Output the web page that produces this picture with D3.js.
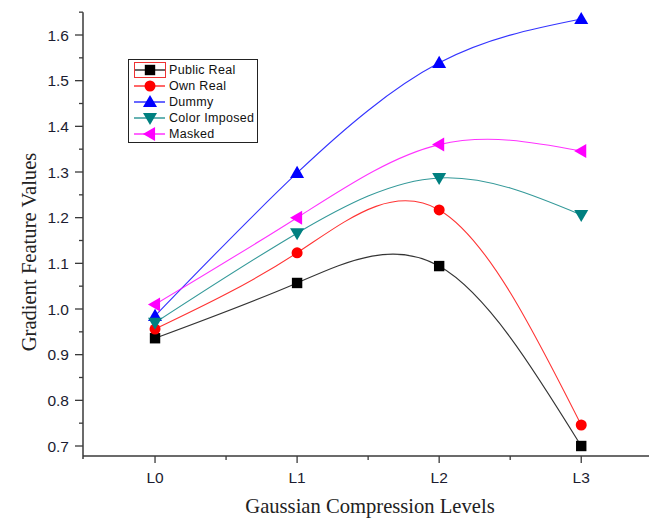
<!DOCTYPE html>
<html>
<head>
<meta charset="utf-8">
<script src="https://cdn.jsdelivr.net/npm/d3@7"></script>
<style>
  body { margin: 0; background: #fff; }
  svg { display: block; }
</style>
</head>
<body>
<svg width="651" height="519"></svg>
<script>
const levels = ['L0', 'L1', 'L2', 'L3']
const publicReal = [0.936, 1.057, 1.094, 0.700]
const ownReal = [0.956, 1.123, 1.217, 0.746]
const dummy = [0.985, 1.298, 1.539, 1.635]
const colorImposed = [0.970, 1.166, 1.287, 1.206]
const masked = [1.010, 1.200, 1.360, 1.346]
const yTicks = [0.7, 0.8, 0.9, 1.0, 1.1, 1.2, 1.3, 1.4, 1.5, 1.6]

const series = [
    { name: 'Public Real', values: publicReal, color: '#000000', symbol: 'square' },
    { name: 'Own Real', values: ownReal, color: '#ff0000', symbol: 'circle' },
    { name: 'Dummy', values: dummy, color: '#0000ff', symbol: 'up' },
    { name: 'Color Imposed', values: colorImposed, color: '#008080', symbol: 'down' },
    { name: 'Masked', values: masked, color: '#ff00ff', symbol: 'left' }
]

const svg = d3.select('svg')

const x = d3.scaleLinear().domain([-0.5, 3.47]).range([84, 648])
const y = d3.scaleLinear().domain([0.7, 1.6]).range([446, 35])

const axisColor = '#3a3a3a'
const labelColor = '#1c1c30'

// markers
const tri = d3.symbol().type(d3.symbolTriangle).size(85)
function marker(sel, kind, color) {
    if (kind === 'square') {
        sel.append('rect').attr('x', -5.2).attr('y', -5.2).attr('width', 10.4).attr('height', 10.4).attr('fill', color)
    } else if (kind === 'circle') {
        sel.append('circle').attr('r', 5.5).attr('fill', color)
    } else {
        const rot = kind === 'up' ? 0 : kind === 'down' ? 180 : -90
        sel.append('path').attr('d', tri()).attr('transform', `rotate(${rot}) translate(0,1)`).attr('fill', color)
    }
}

// y axis
const yAxis = svg.append('g')
yAxis.append('line')
    .attr('x1', 83).attr('x2', 83)
    .attr('y1', y(1.65)).attr('y2', 459)
    .attr('stroke', axisColor).attr('stroke-width', 1.5)
yAxis.selectAll('.major').data(yTicks)
    .enter().append('line')
        .attr('x1', 75).attr('x2', 83)
        .attr('y1', d => y(d)).attr('y2', d => y(d))
        .attr('stroke', axisColor).attr('stroke-width', 1.3)
yAxis.selectAll('.minor').data(yTicks.map(d => d + 0.05))
    .enter().append('line')
        .attr('x1', 79).attr('x2', 83)
        .attr('y1', d => y(d)).attr('y2', d => y(d))
        .attr('stroke', axisColor).attr('stroke-width', 1.3)
yAxis.selectAll('text').data(yTicks)
    .enter().append('text')
        .attr('x', 69)
        .attr('y', d => y(d))
        .attr('dy', '0.36em')
        .attr('text-anchor', 'end')
        .attr('font-family', 'Liberation Sans, Arial, sans-serif')
        .attr('font-size', 15.5)
        .attr('fill', labelColor)
        .text(d => d.toFixed(1))

// x axis
const xAxis = svg.append('g')
xAxis.append('line')
    .attr('x1', 83).attr('x2', 649)
    .attr('y1', 456).attr('y2', 456)
    .attr('stroke', axisColor).attr('stroke-width', 1.5)
xAxis.selectAll('.major').data(levels)
    .enter().append('line')
        .attr('x1', (d, i) => x(i)).attr('x2', (d, i) => x(i))
        .attr('y1', 456).attr('y2', 463)
        .attr('stroke', axisColor).attr('stroke-width', 1.3)
xAxis.selectAll('.minor').data([0.5, 1.5, 2.5])
    .enter().append('line')
        .attr('x1', d => x(d)).attr('x2', d => x(d))
        .attr('y1', 456).attr('y2', 460)
        .attr('stroke', axisColor).attr('stroke-width', 1.3)
xAxis.selectAll('text').data(levels)
    .enter().append('text')
        .attr('x', (d, i) => x(i))
        .attr('y', 483)
        .attr('text-anchor', 'middle')
        .attr('font-family', 'Liberation Sans, Arial, sans-serif')
        .attr('font-size', 15.5)
        .attr('fill', labelColor)
        .text(d => d)

// axis titles
svg.append('text')
    .attr('x', 370).attr('y', 513)
    .attr('text-anchor', 'middle')
    .attr('font-family', 'Liberation Serif, Times New Roman, serif')
    .attr('font-size', 20.6)
    .attr('fill', '#222')
    .text('Gaussian Compression Levels')
svg.append('text')
    .attr('transform', 'translate(36,252) rotate(-90)')
    .attr('text-anchor', 'middle')
    .attr('font-family', 'Liberation Serif, Times New Roman, serif')
    .attr('font-size', 20.6)
    .attr('fill', '#222')
    .text('Gradient Feature Values')

// lines
const line = d3.line()
    .x((d, i) => x(i))
    .y(d => y(d))
    .curve(d3.curveNatural)

svg.selectAll('.series').data(series)
    .enter().append('path')
        .attr('class', 'series')
        .attr('d', d => line(d.values))
        .attr('fill', 'none')
        .attr('stroke', d => d.color)
        .attr('stroke-opacity', 0.8)
        .attr('stroke-width', 1.1)

series.forEach(s => {
    s.values.forEach((v, i) => {
        svg.append('g')
            .attr('transform', `translate(${x(i)},${y(v)})`)
            .call(marker, s.symbol, s.color)
    })
})

// legend
const legend = svg.append('g')
legend.append('rect')
    .attr('x', 128.5).attr('y', 59.5)
    .attr('width', 129).attr('height', 83)
    .attr('fill', '#fff')
    .attr('stroke', '#222').attr('stroke-width', 1)

const item = legend.selectAll('.item').data(series)
    .enter().append('g')
        .attr('class', 'item')
        .attr('transform', (d, i) => `translate(0, ${70 + i * 16})`)
item.append('line')
    .attr('x1', 134).attr('x2', 165)
    .attr('stroke', d => d.color).attr('stroke-width', 1.2)
item.each(function (d) {
    d3.select(this).append('g')
        .attr('transform', 'translate(150,0)')
        .call(marker, d.symbol, d.color)
})
item.append('text')
    .attr('x', 169)
    .attr('dy', '0.35em')
    .attr('font-family', 'Liberation Sans, Arial, sans-serif')
    .attr('font-size', 12.5)
    .attr('letter-spacing', 0.3)
    .attr('fill', '#111')
    .text(d => d.name)

// selection box round the first legend symbol
legend.append('rect')
    .attr('x', 134.5).attr('y', 62.5)
    .attr('width', 31).attr('height', 15)
    .attr('fill', 'none')
    .attr('stroke', '#ee3333').attr('stroke-width', 1)
</script>
</body>
</html>
